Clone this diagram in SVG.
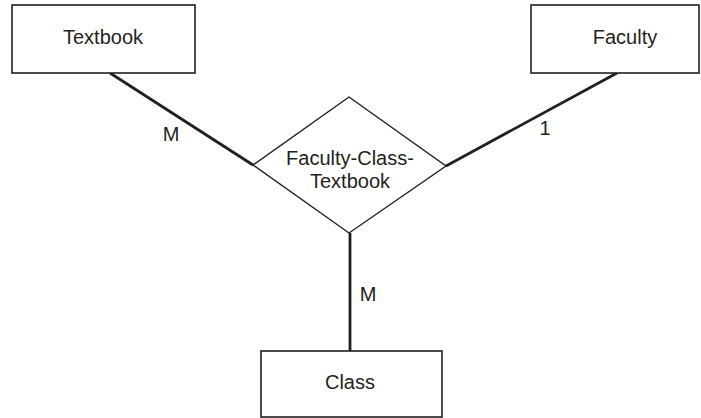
<svg xmlns="http://www.w3.org/2000/svg" width="701" height="418" viewBox="0 0 701 418">
<style>
.box{fill:#fff;stroke:#231f20;stroke-width:1.6}
.dia{fill:#fff;stroke:#231f20;stroke-width:1.4}
.con{stroke:#231f20;stroke-width:2.8;fill:none}
text{font-family:"Liberation Sans",Arial,sans-serif;font-size:20px;fill:#231f20;text-anchor:middle}
</style>
<rect width="701" height="418" fill="#fff"/>
<g id="connectors">
<line class="con" x1="110" y1="73" x2="253" y2="165"/>
<line class="con" x1="617" y1="73" x2="446" y2="166"/>
<line class="con" x1="350" y1="233" x2="350" y2="351"/>
<text x="171" y="141">M</text>
<text x="545" y="135">1</text>
<text x="368" y="301">M</text>
</g>
<g id="textbook">
<rect class="box" x="12" y="5" width="183" height="68"/>
<text x="103" y="44">Textbook</text>
</g>
<g id="faculty">
<rect class="box" x="531" y="5" width="168" height="68"/>
<text x="625" y="44">Faculty</text>
</g>
<g id="fct">
<polygon class="dia" points="349,97 446,166 349,233 253,165"/>
<text x="350" y="165">Faculty-Class-</text>
<text x="350" y="188">Textbook</text>
</g>
<g id="class">
<rect class="box" x="261" y="351" width="181" height="66"/>
<text x="350" y="389">Class</text>
</g>
</svg>
